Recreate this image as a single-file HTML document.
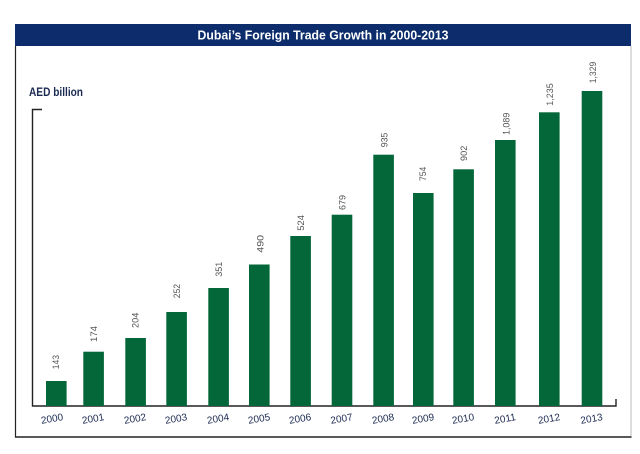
<!DOCTYPE html>
<html>
<head>
<meta charset="utf-8">
<style>
html,body{margin:0;padding:0;background:#fff;}
svg{display:block;}
</style>
</head>
<body>
<svg width="640" height="454" viewBox="0 0 640 454" xmlns="http://www.w3.org/2000/svg">
<rect x="0" y="0" width="640" height="454" fill="#fff"/>
<!-- frame -->
<rect x="15" y="24" width="616" height="22" fill="#0c2c6b"/>
<text x="323" y="39.5" text-anchor="middle" font-family="Liberation Sans, sans-serif" font-weight="bold" font-size="13" fill="#fff" textLength="251" lengthAdjust="spacingAndGlyphs">Dubai’s Foreign Trade Growth in 2000-2013</text>
<line x1="15.5" y1="46" x2="15.5" y2="437" stroke="#222" stroke-width="1.2"/>
<line x1="631" y1="46" x2="631" y2="437" stroke="#bbb" stroke-width="1"/>
<line x1="15" y1="437" x2="631.5" y2="437" stroke="#222" stroke-width="1.5"/>
<!-- y label -->
<text x="29" y="96" font-family="Liberation Sans, sans-serif" font-weight="bold" font-size="12" fill="#1b2a52" textLength="54" lengthAdjust="spacingAndGlyphs">AED billion</text>
<!-- axes -->
<polyline points="42,109.5 32.5,109.5 32.5,406 616,406 616,399" fill="none" stroke="#222" stroke-width="1.4"/>
<!-- bars -->
<g fill="#03673a">
<rect x="46" y="381" width="20.6" height="25"/>
<rect x="83.3" y="351.7" width="20.6" height="54.3"/>
<rect x="125.3" y="338" width="20.6" height="68"/>
<rect x="166.3" y="312" width="20.6" height="94"/>
<rect x="208.3" y="288" width="20.6" height="118"/>
<rect x="249" y="264.5" width="20.6" height="141.5"/>
<rect x="290.3" y="236" width="20.6" height="170"/>
<rect x="331.7" y="214.7" width="20.6" height="191.3"/>
<rect x="373.3" y="154.7" width="20.6" height="251.3"/>
<rect x="413" y="193" width="20.6" height="213"/>
<rect x="453.3" y="169.3" width="20.6" height="236.7"/>
<rect x="495" y="140" width="20.6" height="266"/>
<rect x="539" y="112.3" width="20.6" height="293.7"/>
<rect x="581.7" y="91" width="20.6" height="315"/>
</g>
<!-- value labels -->
<g font-family="Liberation Sans, sans-serif" font-size="9.5" fill="#555">
<text transform="translate(59.2,369.3) rotate(-90)" textLength="14.3" lengthAdjust="spacingAndGlyphs">143</text>
<text transform="translate(96.8,342) rotate(-90)" textLength="16" lengthAdjust="spacingAndGlyphs">174</text>
<text transform="translate(138.5,328) rotate(-90)" textLength="15.3" lengthAdjust="spacingAndGlyphs">204</text>
<text transform="translate(180.2,298.3) rotate(-90)" textLength="14.3" lengthAdjust="spacingAndGlyphs">252</text>
<text transform="translate(221.8,276.7) rotate(-90)" textLength="15" lengthAdjust="spacingAndGlyphs">351</text>
<text transform="translate(263.5,252.7) rotate(-90)" textLength="17.7" lengthAdjust="spacingAndGlyphs">490</text>
<text transform="translate(304.2,230.7) rotate(-90)" textLength="15.7" lengthAdjust="spacingAndGlyphs">524</text>
<text transform="translate(345.5,210) rotate(-90)" textLength="15" lengthAdjust="spacingAndGlyphs">679</text>
<text transform="translate(387.5,147.3) rotate(-90)" textLength="14.6" lengthAdjust="spacingAndGlyphs">935</text>
<text transform="translate(426.2,181) rotate(-90)" textLength="14.3" lengthAdjust="spacingAndGlyphs">754</text>
<text transform="translate(466.8,161) rotate(-90)" textLength="15.3" lengthAdjust="spacingAndGlyphs">902</text>
<text transform="translate(509.5,135) rotate(-90)" textLength="22.3" lengthAdjust="spacingAndGlyphs">1,089</text>
<text transform="translate(552.8,105.7) rotate(-90)" textLength="22.4" lengthAdjust="spacingAndGlyphs">1,235</text>
<text transform="translate(595.8,83.3) rotate(-90)" textLength="21.6" lengthAdjust="spacingAndGlyphs">1,329</text>
</g>
<!-- year labels -->
<g font-family="Liberation Sans, sans-serif" font-size="10" fill="#1b2a52" text-anchor="middle">
<text transform="translate(52,418.5) rotate(-10)" y="3.5">2000</text>
<text transform="translate(93,418.5) rotate(-10)" y="3.5">2001</text>
<text transform="translate(135,418.5) rotate(-10)" y="3.5">2002</text>
<text transform="translate(176,418.5) rotate(-10)" y="3.5">2003</text>
<text transform="translate(218,418.5) rotate(-10)" y="3.5">2004</text>
<text transform="translate(259,418.5) rotate(-10)" y="3.5">2005</text>
<text transform="translate(300,418.5) rotate(-10)" y="3.5">2006</text>
<text transform="translate(341.5,418.5) rotate(-10)" y="3.5">2007</text>
<text transform="translate(383,418.5) rotate(-10)" y="3.5">2008</text>
<text transform="translate(423,418.5) rotate(-10)" y="3.5">2009</text>
<text transform="translate(463,418.5) rotate(-10)" y="3.5">2010</text>
<text transform="translate(505,418.5) rotate(-10)" y="3.5">2011</text>
<text transform="translate(549,418.5) rotate(-10)" y="3.5">2012</text>
<text transform="translate(591.5,418.5) rotate(-10)" y="3.5">2013</text>
</g>
</svg>
</body>
</html>
